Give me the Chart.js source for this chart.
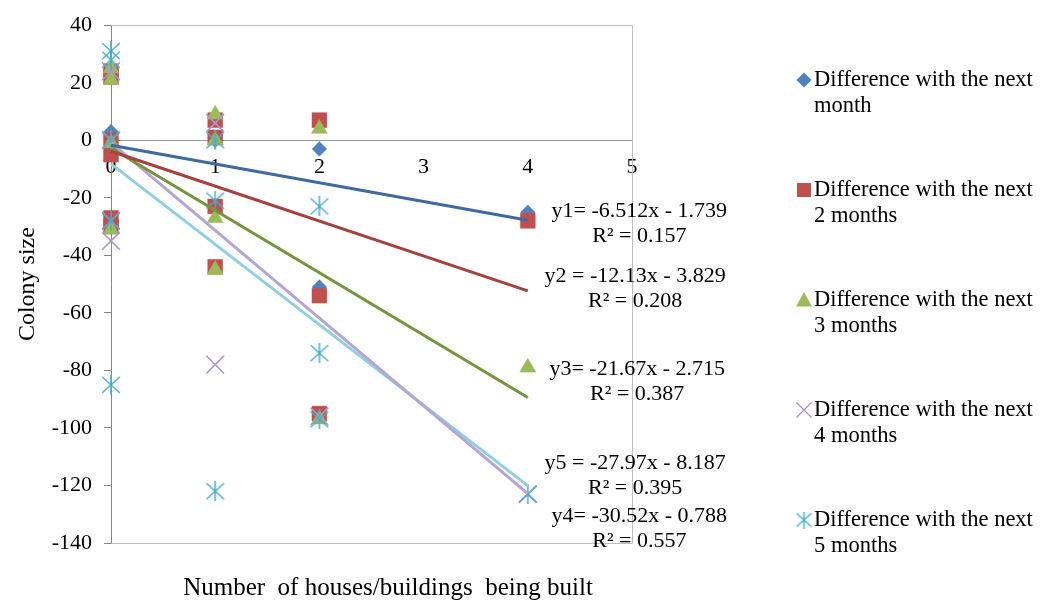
<!DOCTYPE html>
<html>
<head>
<meta charset="utf-8">
<script src="https://cdn.jsdelivr.net/npm/chart.js@4/dist/chart.umd.min.js"></script>
<style>
html,body{margin:0;padding:0;background:#fff;}
#wrap{width:1042px;height:601px;position:relative;}
</style>
</head>
<body>
<div id="wrap"><canvas id="c" width="1042" height="601"></canvas></div>
<script>
// ---------------- DATA ----------------
const seriesNames = [
  "Difference with the next month",
  "Difference with the next 2 months",
  "Difference with the next 3 months",
  "Difference with the next 4 months",
  "Difference with the next 5 months"
];
const xTickValues = [0, 1, 2, 3, 4, 5];
const yTickValues = [-140, -120, -100, -80, -60, -40, -20, 0, 20, 40];

const s1X = [0, 0, 0, 1, 1, 2, 2, 4];
const s1Y = [3, 0, -27, 1, 0, -3, -51, -25];
const s2X = [0, 0, 0, 0, 0, 0, 1, 1, 1, 1, 2, 2, 2, 4];
const s2Y = [24, 22, 0, -5, -27, -30, 7, 1, -23, -44, 7, -54, -95, -28];
const s3X = [0, 0, 0, 0, 1, 1, 1, 1, 2, 2, 4];
const s3Y = [25, 21, -1, -31, 9, 0, -27, -45, 4, -97, -79];
const s4X = [0, 0, 0, 0, 1, 1, 2, 4];
const s4Y = [24, 0, -28, -35, 6, -78, -96, -123];
const s5X = [0, 0, 0, 0, 0, 1, 1, 1, 2, 2, 2, 4];
const s5Y = [31, 28, 0, -28, -85, 0, -21, -122, -23, -74, -97, -123];

const slopes = [-6.512, -12.13, -21.67, -30.52, -27.97];
const intercepts = [-1.739, -3.829, -2.715, -0.788, -8.187];
const eqLabels = ["y1= -6.512x - 1.739", "y2 = -12.13x - 3.829", "y3= -21.67x - 2.715", "y4= -30.52x - 0.788", "y5 = -27.97x - 8.187"];
const r2Labels = ["R\u00B2 = 0.157", "R\u00B2 = 0.208", "R\u00B2 = 0.387", "R\u00B2 = 0.557", "R\u00B2 = 0.395"];

// ---------------- STYLE / LAYOUT ----------------
const FONT = "'Liberation Serif', 'Times New Roman', serif";
const markerColors = ["#4F81BD", "#C0504D", "#9BBB59", "#A996CC", "#4BACC6"];
const lineColors = ["#3F69A3", "#A8403D", "#77933C", "#B5A5D5", "#8FCFE0"];
// annotation anchors in data units (x, y) for each equation label
const eqAnchors = [[5.07, -24.7], [5.03, -47.3], [5.05, -79.6], [5.07, -130.6], [5.03, -112.2]];

function makeAsterisk(size, color, lw) {
  const c = document.createElement('canvas');
  c.width = size; c.height = size;
  const g = c.getContext('2d');
  g.strokeStyle = color; g.lineWidth = lw;
  const m = size / 2, a = size * 0.44, b = size * 0.40;
  g.beginPath();
  g.moveTo(m - a, m - b); g.lineTo(m + a, m + b);
  g.moveTo(m + a, m - b); g.lineTo(m - a, m + b);
  g.moveTo(m, 0); g.lineTo(m, size);
  g.stroke();
  return c;
}
const asteriskImg = makeAsterisk(20, markerColors[4], 1.5);
const asteriskLegend = makeAsterisk(17, markerColors[4], 1.4);

const xs = [s1X, s2X, s3X, s4X, s5X];
const ys = [s1Y, s2Y, s3Y, s4Y, s5Y];
const pointStyles = ['rectRot', 'rect', 'triangle', 'crossRot', asteriskImg];
const pointRadii = [7.3, 10.5, 9.2, 12.5, 10];

const scatterSets = xs.map((xa, i) => ({
  type: 'scatter',
  label: seriesNames[i],
  data: xa.map((x, j) => ({x: x, y: ys[i][j]})),
  pointStyle: pointStyles[i],
  pointRadius: pointRadii[i],
  pointHoverRadius: pointRadii[i],
  backgroundColor: markerColors[i],
  borderColor: markerColors[i],
  pointBorderWidth: (i === 3) ? 1.6 : 0.5,
  showLine: false,
  clip: false,
  order: 10 - i
}));

const trendSets = slopes.map((m, i) => {
  const x0 = Math.min(...xs[i]), x1 = Math.max(...xs[i]);
  return {
    type: 'scatter',
    label: 'trend' + (i + 1),
    data: [{x: x0, y: m * x0 + intercepts[i]}, {x: x1, y: m * x1 + intercepts[i]}],
    showLine: true,
    pointRadius: 0,
    borderColor: lineColors[i],
    borderWidth: 3,
    fill: false,
    clip: false,
    order: 0
  };
});

const framePlugin = {
  id: 'frame',
  beforeDatasetsDraw(chart) {
    const {ctx, chartArea: a} = chart;
    ctx.save();
    ctx.strokeStyle = '#BDBDBD';
    ctx.lineWidth = 1;
    ctx.beginPath();
    ctx.moveTo(Math.round(a.left) + 0.5, Math.round(a.top) + 0.5);
    ctx.lineTo(Math.round(a.right) + 0.5, Math.round(a.top) + 0.5);
    ctx.lineTo(Math.round(a.right) + 0.5, Math.round(a.bottom) + 0.5);
    ctx.lineTo(Math.round(a.left) + 0.5, Math.round(a.bottom) + 0.5);
    ctx.stroke();
    ctx.restore();
  }
};

function drawLegendMarker(ctx, i, x, y) {
  ctx.save();
  ctx.fillStyle = markerColors[i];
  ctx.strokeStyle = markerColors[i];
  ctx.beginPath();
  if (i === 0) {
    const r = 7.5;
    ctx.moveTo(x, y - r); ctx.lineTo(x + r, y); ctx.lineTo(x, y + r); ctx.lineTo(x - r, y); ctx.closePath(); ctx.fill();
  } else if (i === 1) {
    ctx.rect(x - 7, y - 7, 14, 14); ctx.fill();
  } else if (i === 2) {
    ctx.moveTo(x, y - 8); ctx.lineTo(x + 8, y + 6.5); ctx.lineTo(x - 8, y + 6.5); ctx.closePath(); ctx.fill();
  } else if (i === 3) {
    ctx.lineWidth = 1.4;
    ctx.moveTo(x - 7.5, y - 7.5); ctx.lineTo(x + 7.5, y + 7.5);
    ctx.moveTo(x + 7.5, y - 7.5); ctx.lineTo(x - 7.5, y + 7.5); ctx.stroke();
  } else {
    ctx.drawImage(asteriskLegend, x - 8.5, y - 8.5);
  }
  ctx.restore();
}

const textPlugin = {
  id: 'texts',
  afterDraw(chart) {
    const {ctx, chartArea: a, scales} = chart;
    ctx.save();
    ctx.fillStyle = '#000';
    // equations
    ctx.font = '22px ' + FONT;
    ctx.textAlign = 'center';
    ctx.textBaseline = 'middle';
    eqLabels.forEach((t, i) => {
      const px = scales.x.getPixelForValue(eqAnchors[i][0]);
      const py = scales.y.getPixelForValue(eqAnchors[i][1]);
      ctx.fillText(t, px, py);
      ctx.fillText(r2Labels[i], px, py + 25);
    });
    // legend
    ctx.textAlign = 'left';
    ctx.font = '22.5px ' + FONT;
    const lx = 804, tx = 814, maxW = 228;
    seriesNames.forEach((name, i) => {
      const y0 = 80 + 110 * i;
      drawLegendMarker(ctx, i, lx, y0);
      const words = name.split(' ');
      const lines = [];
      let cur = '';
      words.forEach(w => {
        const test = cur ? cur + ' ' + w : w;
        if (ctx.measureText(test).width > maxW && cur) { lines.push(cur); cur = w; } else cur = test;
      });
      lines.push(cur);
      lines.forEach((l, k) => ctx.fillText(l, tx, y0 + 26 * k));
    });
    // axis titles
    ctx.textAlign = 'center';
    ctx.font = '25px ' + FONT;
    ctx.fillText('Number  of houses/buildings  being built', 388, 588);
    ctx.font = '24px ' + FONT;
    ctx.translate(28, (a.top + a.bottom) / 2);
    ctx.rotate(-Math.PI / 2);
    ctx.fillText('Colony size', 0, 0);
    ctx.restore();
  }
};

Chart.defaults.font.family = FONT;
Chart.defaults.color = '#000';

new Chart(document.getElementById('c'), {
  type: 'scatter',
  data: {datasets: trendSets.concat(scatterSets)},
  options: {
    responsive: false,
    animation: false,
    events: [],
    layout: {padding: {left: 0, right: 410, top: 24, bottom: 58}},
    plugins: {legend: {display: false}, tooltip: {enabled: false}, title: {display: false}},
    scales: {
      x: {
        type: 'linear',
        position: {y: 0},
        min: xTickValues[0],
        max: xTickValues[xTickValues.length - 1],
        afterBuildTicks: s => { s.ticks = xTickValues.map(v => ({value: v})); },
        grid: {display: false, drawTicks: false},
        border: {display: true, color: '#9A9A9A', width: 1},
        ticks: {font: {size: 22, family: FONT}, color: '#000', padding: 14, maxRotation: 0}
      },
      y: {
        type: 'linear',
        min: yTickValues[0],
        max: yTickValues[yTickValues.length - 1],
        afterBuildTicks: s => { s.ticks = yTickValues.map(v => ({value: v})); },
        afterFit: s => { s.width = 111; },
        grid: {drawOnChartArea: false, drawTicks: true, tickLength: 7, color: '#868686'},
        border: {display: true, color: '#868686', width: 1},
        ticks: {font: {size: 22, family: FONT}, color: '#000', padding: 12}
      }
    }
  },
  plugins: [framePlugin, textPlugin]
});
</script>
</body>
</html>
